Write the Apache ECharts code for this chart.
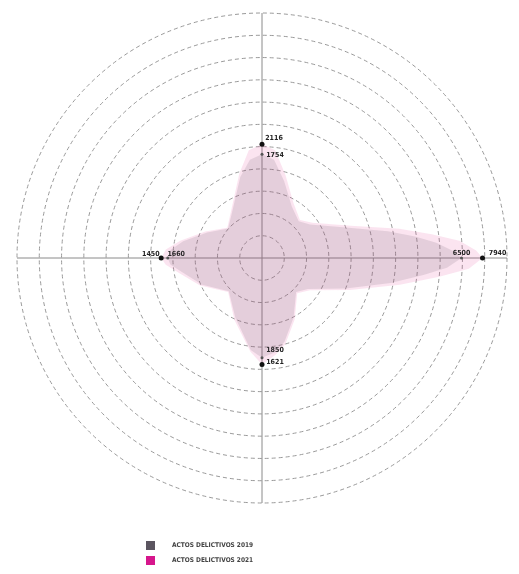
<!DOCTYPE html>
<html>
<head>
<meta charset="utf-8">
<style>
  html, body { margin: 0; padding: 0; background: #fff; }
  #chart { width: 519px; height: 574px; }
</style>
<script src="https://cdn.jsdelivr.net/npm/echarts@6/dist/echarts.min.js"></script>
</head>
<body>
<div id="chart"></div>
<script>
// Angles (degrees, clockwise from top) at which the outline was read
const angles = [0,7,16,30,45,55,70,78,82,85,88,90,93,96,101,110,124,135,152,165,172,180,187,204,225,246,260,266,270,275,282,295,311,325,345,353,360];

// ACTOS DELICTIVOS 2021 (outer, pink)
const acts2021 = [2116,1920,1200,650,470,620,1460,3220,4790,6410,7500,7940,7000,5190,3220,1430,545,405,790,1310,1560,1850,1460,750,375,750,1170,1520,1660,1520,1140,640,345,490,1250,1920,2116];

// ACTOS DELICTIVOS 2019 (inner, grey)
const acts2019 = [1754,1600,1050,580,440,560,1300,2700,3900,5000,6000,6500,5600,4300,2800,1300,500,380,740,1230,1480,1621,1400,700,360,700,1080,1380,1450,1380,1060,600,330,460,1150,1600,1754];

const seriesNames = ['ACTOS DELICTIVOS 2019', 'ACTOS DELICTIVOS 2021'];

// label placement for the four axis points (index -> offset)
const labelOffsets2021 = {0: [12, -6], 11: [15, -5], 21: [13, -14], 28: [15, -4]};
const labelOffsets2019 = {0: [13, 1], 11: [0, -5], 21: [13, 5], 28: [-17, -4]};

function build(vals, offsets, symSize, symColor) {
  return vals.map((v, i) => {
    const item = { value: [Math.sqrt(v), angles[i]], raw: v, symbolSize: 0 };
    if (offsets[i]) {
      item.symbolSize = symSize;
      item.itemStyle = { color: symColor };
      item.label = { show: true, position: 'inside', offset: offsets[i] };
    }
    return item;
  });
}

const chart = echarts.init(document.getElementById('chart'));
const fontFam = 'Liberation Sans Narrow, DejaVu Sans Condensed, sans-serif';
const labelStyle = {
  show: false,
  formatter: p => String(p.data.raw),
  fontSize: 7,
  fontWeight: 'bold',
  color: '#222',
  fontFamily: fontFam
};

chart.setOption({
  backgroundColor: '#ffffff',
  animation: false,
  polar: { center: [262, 258], radius: 245 },
  angleAxis: {
    type: 'value', min: 0, max: 360, interval: 90,
    startAngle: 90, clockwise: true,
    axisLine: { show: false },
    axisTick: { show: false },
    axisLabel: { show: false },
    splitLine: { show: true, lineStyle: { color: '#8a8a8a', width: 1 } }
  },
  radiusAxis: {
    type: 'value', min: 0, max: 99, interval: 9,
    axisLine: { show: false },
    axisTick: { show: false },
    axisLabel: { show: false },
    splitLine: { show: true, lineStyle: { color: '#9a9a9a', width: 1, type: [4, 3] } }
  },
  legend: {
    orient: 'vertical',
    left: 146, top: 541,
    padding: 0,
    icon: 'rect', itemWidth: 9, itemHeight: 9, itemGap: 6,
    textStyle: { fontSize: 6.5, fontWeight: 'bold', color: '#444', fontFamily: fontFam, padding: [0, 0, 0, 12] },
    data: [
      { name: seriesNames[0], itemStyle: { color: '#5b5560' } },
      { name: seriesNames[1], itemStyle: { color: '#d6168c' } }
    ]
  },
  series: [
    {
      name: seriesNames[1], type: 'line', coordinateSystem: 'polar',
      data: build(acts2021, labelOffsets2021, 5, '#111'),
      symbol: 'circle', showSymbol: true,
      itemStyle: { color: '#d6168c' },
      lineStyle: { width: 0, opacity: 0 },
      areaStyle: { color: 'rgba(230,80,160,0.22)' },
      label: labelStyle,
      z: 2
    },
    {
      name: seriesNames[0], type: 'line', coordinateSystem: 'polar',
      data: build(acts2019, labelOffsets2019, 3, '#555'),
      symbol: 'circle', showSymbol: true,
      itemStyle: { color: '#5b5560' },
      lineStyle: { width: 0, opacity: 0 },
      areaStyle: { color: 'rgba(90,80,95,0.2)' },
      label: labelStyle,
      z: 3
    }
  ]
});
</script>
</body>
</html>
